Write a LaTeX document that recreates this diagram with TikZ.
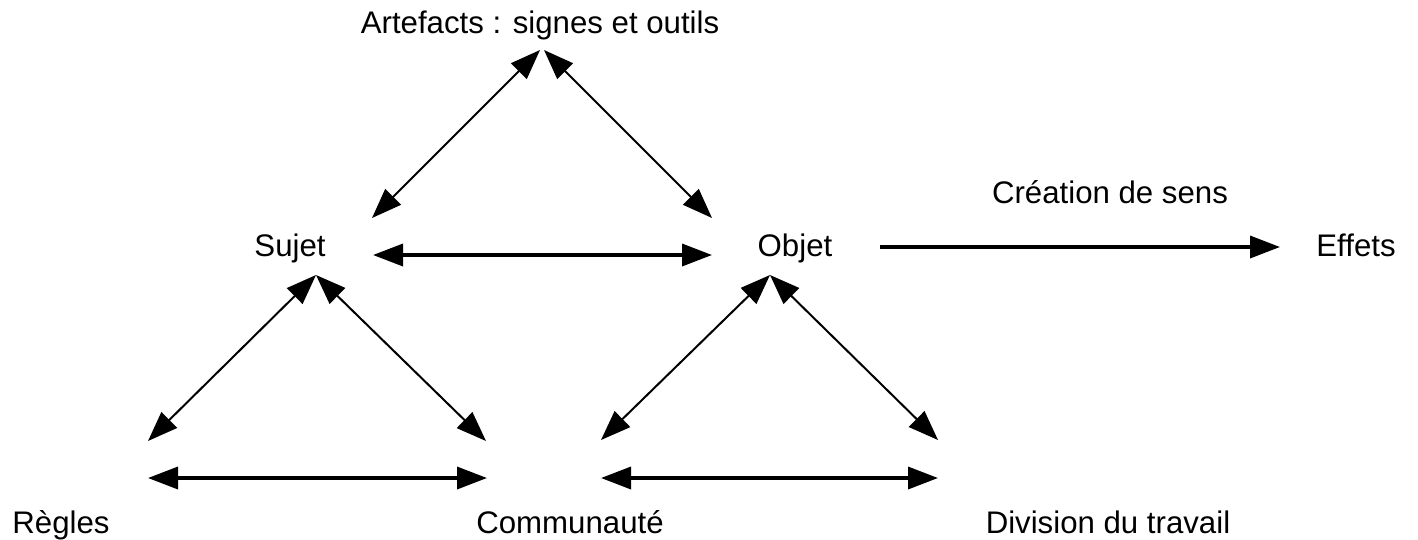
\documentclass[tikz,border=0pt]{standalone}
\usepackage{fontspec}
\setmainfont{Liberation Sans}
\usetikzlibrary{arrows.meta}
\tikzstyle{concept} = [inner sep=0pt, anchor=base, font=\fontsize{31.2}{36}\selectfont]
\tikzstyle{link} = [line width=2pt, {Triangle[length=30pt,width=22pt]}-{Triangle[length=30pt,width=22pt]}]
\tikzstyle{bond} = [line width=3.5pt, {Triangle[length=30pt,width=22pt]}-{Triangle[length=30pt,width=22pt]}]
\tikzstyle{flow} = [line width=3.5pt, -{Triangle[length=30pt,width=22pt]}]

\begin{document}
\begin{tikzpicture}[x=1pt,y=-1pt]
\useasboundingbox (0,0) rectangle (1418,539);
% labels
\node (art) [concept] at (540,33) {Artefacts : signes et outils};
\node (sujet) [concept] at (290,256) {Sujet};
\node (objet) [concept] at (795,256) {Objet};
\node (sens) [concept] at (1110,203) {Création de sens};
\node (effets) [concept] at (1356,256) {Effets};
\node (regles) [concept] at (61,533) {Règles};
\node (comm) [concept] at (570,533) {Communauté};
\node (div) [concept] at (1108,533) {Division du travail};
% arrow ends
\coordinate (artL) at (540,50);
\coordinate (artR) at (544,50);
\coordinate (sujR) at (372,218);
\coordinate (objL) at (712,218);
\coordinate (sujE) at (373,255);
\coordinate (objW) at (712,255);
\coordinate (sujB) at (316,275);
\coordinate (regU) at (148,441);
\coordinate (comU) at (486,441);
\coordinate (objB) at (770,275);
\coordinate (comV) at (601,440);
\coordinate (divU) at (938,440);
\coordinate (regE) at (148,478);
\coordinate (comW) at (487,478);
\coordinate (comE) at (601,478);
\coordinate (divW) at (938,478);
\coordinate (objE) at (880,247);
\coordinate (effW) at (1280,247);
% connectors
\draw [link] (sujR) -- (artL);
\draw [link] (artR) -- (objL);
\draw [bond] (sujE) -- (objW);
\draw [link] (regU) -- (sujB);
\draw [link] (sujB) -- (comU);
\draw [link] (comV) -- (objB);
\draw [link] (objB) -- (divU);
\draw [bond] (regE) -- (comW);
\draw [bond] (comE) -- (divW);
\draw [flow] (objE) -- (effW);
\end{tikzpicture}
\end{document}
